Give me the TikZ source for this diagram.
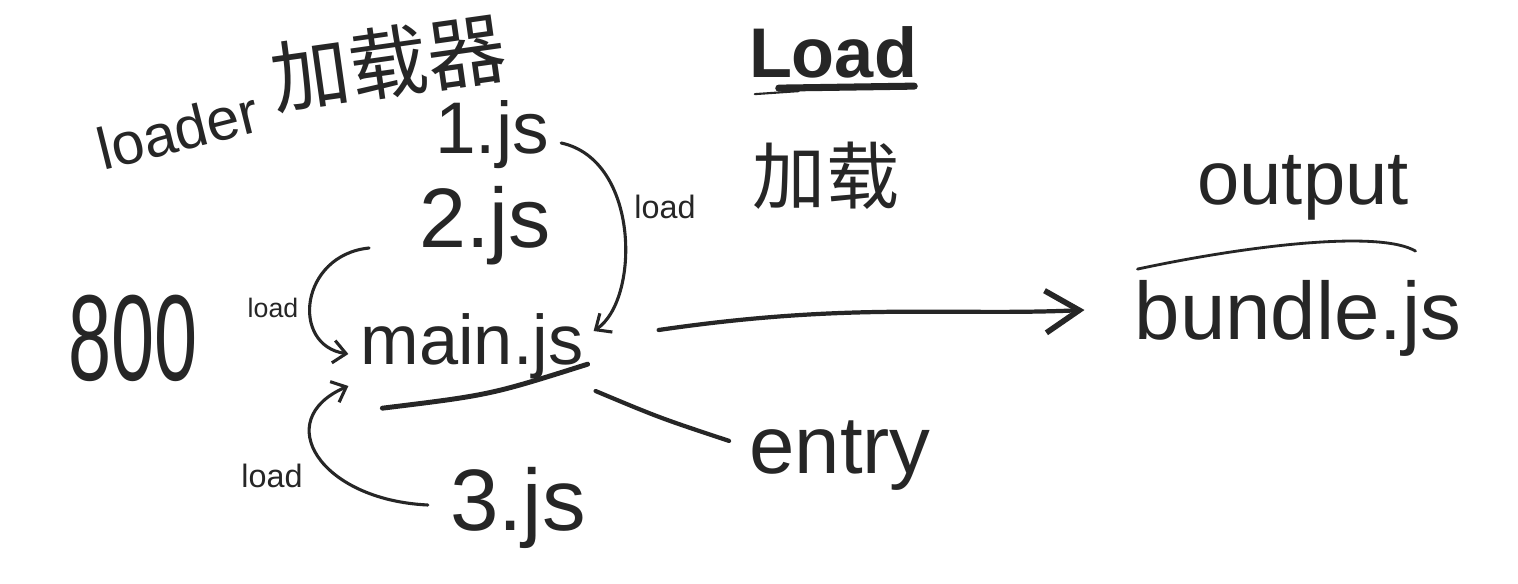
\documentclass[tikz,border=0pt]{standalone}
\usepackage{fontspec}
\setmainfont{Liberation Sans}
\newfontfamily\cjk{Noto Sans CJK SC}
\usetikzlibrary{arrows.meta}
\definecolor{ink}{HTML}{262626}
\begin{document}
\begin{tikzpicture}[x=0.025cm,y=-0.025cm,
  txt/.style={text=ink, inner sep=0pt},
  fs/.style={font=\fontsize{#1}{#1}\selectfont},
  link/.style={draw=ink, line width=2.2pt, line cap=round,
    -{Straight Barb[length=9pt,width=16pt,line width=2.2pt]}},
  bigarrow/.style={draw=ink, line width=3pt, line cap=round,
    -{Straight Barb[length=24pt,width=30pt,line width=4pt]}},
  stroke/.style={draw=ink, line cap=round}]
\useasboundingbox (0,0) rectangle (1518,584);
\fill[white] (0,0) rectangle (1518,584);

% nodes
\node[txt,fs=42,rotate=14] (loader) at (178,130) {loader};
\node[txt,fs=56,rotate=8] (jzq) at (388,62) {\cjk 加载器};
\node[txt,fs=52] (one) at (492,135) {1.js};
\node[txt,fs=60] (two) at (485,226) {2.js};
\node[txt,fs=50] (main) at (472,346) {main.js};
\node[txt,fs=62] (three) at (518,508) {3.js};
\node[txt,fs=58] (eight) at (133,338) {\scalebox{0.95}[1.5]{800}};
\node[txt,fs=19] (lb) at (273,308) {load};
\node[txt,fs=23] (lc) at (272,476) {load};
\node[txt,fs=23] (la) at (665,207) {load};
\node[txt,fs=50] (Load) at (833,52) {\bfseries Load};
\node[txt,fs=52] (jz) at (826,176) {\cjk 加载};
\node[txt,fs=54] (out) at (1303,188) {output};
\node[txt,fs=58] (bundle) at (1298,318) {bundle.js};
\node[txt,fs=58] (entry) at (840,456) {entry};

% underlines / overlines
\draw[stroke, line width=5pt] ([shift={(30,11)}]Load.base west) -- ([shift={(-3,9)}]Load.base east);
\draw[stroke, line width=1.5pt] ([shift={(6,17)}]Load.base west) -- ([shift={(50,14)}]Load.base west);
\draw[stroke, line width=3.5pt] ([shift={(22,44)}]main.base west) .. controls (490,395) .. ([shift={(4,0)}]main.base east);
\draw[stroke, line width=2pt] ([shift={(3,-70)}]bundle.base west) .. controls (1250,245) and (1380,230) .. ([shift={(-46,-88)}]bundle.base east);

% connectors
\draw[link] ([shift={(12,8)}]one.east) .. controls (640,160) and (640,300) .. ([shift={(10,-15)}]main.east);
\draw[link] ([shift={(-50,22)}]two.west) .. controls (300,255) and (290,345) .. ([shift={(-12,8)}]main.west);
\draw[link] ([shift={(-22,-3)}]three.west) .. controls (320,500) and (270,420) .. ([shift={(-12,40)}]main.west);
\draw[bigarrow] ([shift={(75,-16)}]main.east) .. controls (850,302) and (950,316) .. ([shift={(-50,-8)}]bundle.west);
\draw[stroke, line width=3pt] ([shift={(12,12)}]main.south east) .. controls (660,418) .. ([shift={(-20,20)}]entry.north west);
\end{tikzpicture}
\end{document}
